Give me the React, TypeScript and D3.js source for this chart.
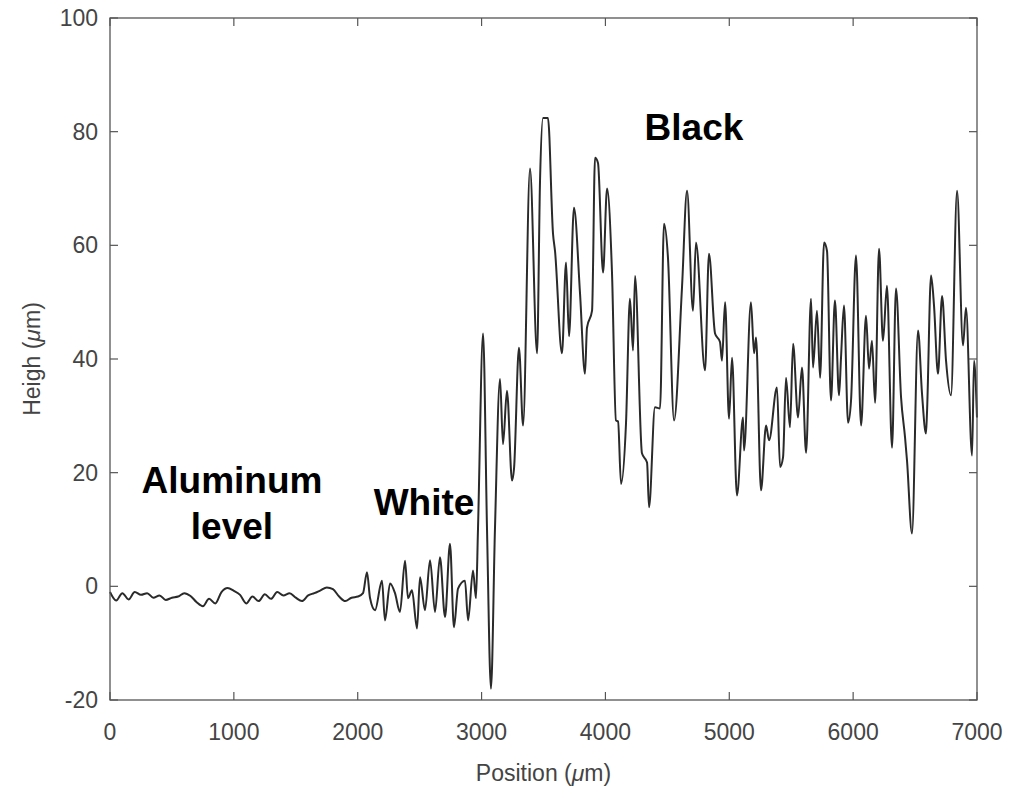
import React from "react";
import * as d3 from "d3";

// profile (position in um, height in um)
const positions = [
  0, 50, 100, 150, 200, 250, 300, 350, 400, 450, 500, 550, 600, 650, 700, 750, 800, 850, 900, 950,
  1000, 1050, 1100, 1150, 1200, 1250, 1300, 1350, 1400, 1450, 1500, 1550, 1600, 1650, 1700, 1750,
  1800, 1850, 1900, 1950, 2002, 2043, 2075, 2099, 2140, 2196, 2220, 2261, 2301, 2341, 2382, 2406,
  2438, 2479, 2503, 2543, 2584, 2624, 2664, 2705, 2745, 2777, 2810, 2866, 2891, 2931, 2955, 2971,
  3012, 3044, 3076, 3108, 3149, 3173, 3205, 3246, 3262, 3302, 3335, 3391, 3448, 3472, 3496, 3536,
  3577, 3593, 3649, 3682, 3706, 3746, 3795, 3835, 3851, 3892, 3916, 3940, 3981, 4013, 4053, 4085,
  4102, 4126, 4166, 4198, 4223, 4239, 4295, 4336, 4352, 4400, 4441, 4473, 4505, 4554, 4618, 4659,
  4707, 4731, 4804, 4836, 4885, 4925, 4941, 4966, 4998, 5022, 5062, 5111, 5119, 5175, 5200, 5216,
  5256, 5297, 5321, 5385, 5410, 5434, 5458, 5490, 5515, 5555, 5587, 5620, 5660, 5676, 5708, 5733,
  5765, 5789, 5821, 5853, 5886, 5902, 5926, 5959, 5983, 6023, 6064, 6104, 6128, 6152, 6177, 6209,
  6241, 6273, 6314, 6346, 6387, 6419, 6435, 6475, 6524, 6556, 6588, 6596, 6629, 6653, 6685, 6718,
  6750, 6790, 6839, 6887, 6911, 6960, 6976, 7000,
];
const heights = [
  -1.0, -2.5, -1.2, -2.3, -1.0, -1.5, -1.2, -2.0, -1.6, -2.4, -2.0, -1.8, -1.2, -1.7, -2.8, -3.5, -2.2, -3.0, -1.0, -0.3,
  -0.8, -1.5, -3.0, -1.8, -2.6, -1.4, -2.2, -1.0, -1.6, -1.2, -2.0, -2.6, -1.6, -1.2, -0.7, -0.2,
  -0.5, -1.8, -2.6, -2.0, -1.8, -1.2, 2.5, -2.0, -4.2, 1.0, -6.0, 0.5, -1.2, -4.5, 4.5, -2.1,
  -0.7, -7.4, 1.6, -4.2, 4.6, -4.5, 5.1, -5.4, 7.5, -7.2, -0.4, 1.0, -6.0, 2.8, -2.1, 10,
  44.5, 10, -18, 10, 36.5, 25, 34.4, 18.6, 20.7, 42, 28.3, 73.5, 41, 71.4, 82.4, 82.4,
  62, 59, 41, 57, 44, 66.6, 51.5, 37.4, 45.5, 48.5, 75.4, 74.5, 55.2, 70, 55.2, 29.2,
  29, 18, 28.6, 50.6, 41.5, 54.6, 23.4, 21.8, 13.9, 31.5, 31.3, 63.8, 57.8, 29.2, 52.5, 69.6,
  48.5, 60.5, 38, 58.5, 44.5, 43, 39.7, 50, 29.5, 40.2, 16, 29.7, 23.9, 50, 41, 43.8,
  16.9, 28.3, 25.7, 35, 21, 22.7, 36.7, 28, 42.7, 29.7, 38.5, 23.5, 50.6, 38.5, 48.5, 36.7,
  60.5, 59, 32.7, 50.3, 33.6, 40.2, 49.4, 28.8, 32.7, 58.2, 28.3, 47.6, 38.3, 43.2, 32.3, 59.4,
  43.2, 52.9, 24.4, 52.4, 33.2, 26.2, 22.1, 9.3, 45, 33.9, 26.9, 30.4, 54.7, 49.4, 37.4, 51.1,
  39.7, 33.6, 69.6, 42.4, 49, 23, 39.7, 29.7,
];
const xTicks = [0, 1000, 2000, 3000, 4000, 5000, 6000, 7000];
const yTicks = [-20, 0, 20, 40, 60, 80, 100];
const notes = [
  { text: "Black", x: 4715, y: 78.5 },
  { text: "Aluminum", x: 985, y: 16.5 },
  { text: "level", x: 985, y: 8.4 },
  { text: "White", x: 2535, y: 12.5 },
];

const W = 1009, H = 789;
const margin = { top: 18, right: 32, bottom: 89, left: 110 };
const font = "Liberation Sans, Arial, Helvetica, sans-serif";

export default function App() {
  const x = d3.scaleLinear().domain([0, 7000]).range([margin.left, W - margin.right]);
  const y = d3.scaleLinear().domain([-20, 100]).range([H - margin.bottom, margin.top]);
  const pts: [number, number][] = positions.map((p, i) => [p, heights[i]]);
  const line = d3.line<[number, number]>()
    .x(d => x(d[0]))
    .y(d => y(d[1]))
    .curve(d3.curveMonotoneX);
  const [x0, x1] = x.range();
  const [y0, y1] = y.range();
  const tl = 8;
  const axisColor = "#555";
  const textColor = "#444";

  return (
    <svg width={W} height={H} style={{ position: "absolute", left: 0, top: 0, background: "#fff" }}
      fontFamily={font}>
      <path d={line(pts) || ""} fill="none" stroke="#2a2a2a" strokeWidth={2} strokeLinejoin="round" />
      {/* box */}
      <rect x={x0} y={y1} width={x1 - x0} height={y0 - y1} fill="none" stroke={axisColor} strokeWidth={1.3} />
      {xTicks.map(t => (
        <g key={"x" + t}>
          <line x1={x(t)} x2={x(t)} y1={y0} y2={y0 - tl} stroke={axisColor} strokeWidth={1.2} />
          <line x1={x(t)} x2={x(t)} y1={y1} y2={y1 + tl} stroke={axisColor} strokeWidth={1.2} />
          <text x={x(t)} y={y0 + 40} textAnchor="middle" fontSize={23} fill={textColor}>{t}</text>
        </g>
      ))}
      {yTicks.map(t => (
        <g key={"y" + t}>
          <line x1={x0} x2={x0 + tl} y1={y(t)} y2={y(t)} stroke={axisColor} strokeWidth={1.2} />
          <line x1={x1} x2={x1 - tl} y1={y(t)} y2={y(t)} stroke={axisColor} strokeWidth={1.2} />
          <text x={x0 - 12} y={y(t) + 8} textAnchor="end" fontSize={23} fill={textColor}>{t}</text>
        </g>
      ))}
      <text x={(x0 + x1) / 2} y={H - 8} textAnchor="middle" fontSize={23} fill={textColor}>
        Position (<tspan fontStyle="italic">μ</tspan>m)
      </text>
      <text transform={`translate(${40},${(y0 + y1) / 2}) rotate(-90)`} textAnchor="middle" fontSize={23} fill={textColor}>
        Heigh (<tspan fontStyle="italic">μ</tspan>m)
      </text>
      {notes.map(n => (
        <text key={n.text} x={x(n.x)} y={y(n.y)} textAnchor="middle" fontSize={37} fontWeight="bold" fill="#000">
          {n.text}
        </text>
      ))}
    </svg>
  );
}
